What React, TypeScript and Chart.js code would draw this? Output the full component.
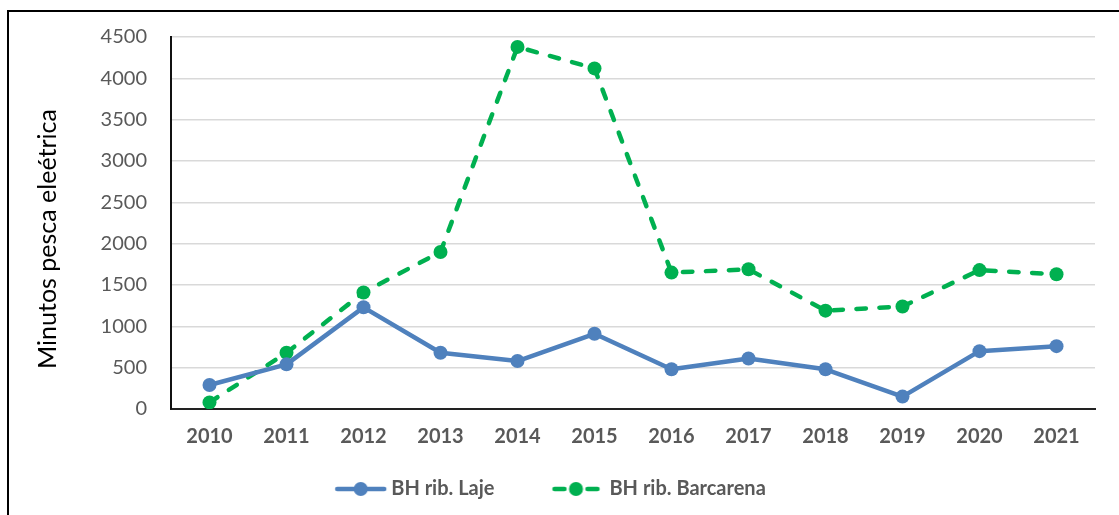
import React, { useEffect, useRef } from "react";
import { Chart, registerables } from "chart.js";

Chart.register(...registerables);

const categories = ["2010", "2011", "2012", "2013", "2014", "2015", "2016", "2017", "2018", "2019", "2020", "2021"];
const lajeValues = [290, 540, 1230, 680, 580, 910, 480, 610, 480, 150, 700, 760];
const barcarenaValues = [80, 680, 1410, 1900, 4380, 4120, 1650, 1690, 1190, 1240, 1680, 1630];
const seriesNames = ["BH rib. Laje", "BH rib. Barcarena"];
const yMin = 0;
const yMax = 4500;
const yStep = 500;
const yTitle = "Minutos pesca eleétrica     ";

const BLUE = "#4F81BD";
const GREEN = "#00B050";
const FONT = "Lato, 'Liberation Sans', sans-serif";

const PAD_LEFT = -25;
const LEGEND_BOX = 77;
const ICON_W = 97;

function makeLegendIcon(color: string, dashed: boolean, totalW: number, visW: number, gap: number) {
  const c = document.createElement("canvas");
  c.width = totalW;
  c.height = 20;
  const ctx = c.getContext("2d")!;
  const x0 = totalW - gap - visW;
  ctx.strokeStyle = color;
  ctx.fillStyle = color;
  ctx.lineWidth = 4.5;
  ctx.lineCap = "round";
  ctx.beginPath();
  if (dashed) {
    ctx.moveTo(x0 + 3, 10);
    ctx.lineTo(x0 + 13, 10);
    ctx.moveTo(x0 + visW - 13, 10);
    ctx.lineTo(x0 + visW - 3, 10);
  } else {
    ctx.moveTo(x0 + 3, 10);
    ctx.lineTo(x0 + visW - 3, 10);
  }
  ctx.stroke();
  ctx.beginPath();
  ctx.arc(x0 + visW / 2, 10, 7, 0, Math.PI * 2);
  ctx.fill();
  return c;
}

export default function App() {
  const canvasRef = useRef<HTMLCanvasElement | null>(null);

  useEffect(() => {
    if (!canvasRef.current) return;
    const icons = [makeLegendIcon(BLUE, false, ICON_W, 53, 4), makeLegendIcon(GREEN, true, ICON_W, 49, 9)];
    const chart = new Chart(canvasRef.current, {
      type: "line",
      data: {
        labels: categories,
        datasets: [
          {
            label: seriesNames[0],
            data: lajeValues,
            borderColor: BLUE,
            backgroundColor: BLUE,
            borderWidth: 4.5,
            pointRadius: 7,
            pointHoverRadius: 7,
            pointBorderWidth: 0,
            pointBackgroundColor: BLUE,
            borderCapStyle: "round",
            borderJoinStyle: "round",
            tension: 0,
          },
          {
            label: seriesNames[1],
            data: barcarenaValues,
            borderColor: GREEN,
            backgroundColor: GREEN,
            borderWidth: 4.5,
            borderDash: [9.5, 13.5],
            borderCapStyle: "round",
            borderJoinStyle: "round",
            pointRadius: 7,
            pointHoverRadius: 7,
            pointBorderWidth: 0,
            pointBackgroundColor: GREEN,
            tension: 0,
          },
        ],
      },
      options: {
        responsive: false,
        animation: false,
        layout: { padding: { left: PAD_LEFT, right: 24, top: 37, bottom: 6 } },
        plugins: {
          tooltip: { enabled: false },
          legend: {
            position: "bottom",
            labels: {
              usePointStyle: true,
              pointStyleWidth: LEGEND_BOX,
              padding: 28,
              color: "#595959",
              font: { family: FONT, size: 20, weight: "bold" },
              generateLabels: (ch: any) => {
                const items = (Chart.defaults.plugins.legend.labels.generateLabels as any)(ch);
                return items.map((it: any, i: number) => ({ ...it, pointStyle: icons[i] }));
              },
            },
          },
        },
        scales: {
          x: {
            offset: true,
            grid: { display: false, drawTicks: false },
            border: { display: true, color: "#222", width: 2 },
            ticks: {
              color: "#595959",
              padding: 16,
              font: { family: FONT, size: 20, weight: "bold" },
              maxRotation: 0,
              autoSkip: false,
            },
            afterFit: (scale: any) => {
              scale.height = 42;
            },
          },
          y: {
            min: yMin,
            max: yMax,
            ticks: {
              stepSize: yStep,
              color: "#595959",
              padding: 24,
              font: { family: FONT, size: 20 },
              callback: (v: any) => String(v),
            },
            grid: { color: "#d9d9d9", lineWidth: 1.5, drawTicks: false },
            border: { display: true, color: "#111", width: 2 },
            title: {
              display: true,
              text: yTitle,
              color: "#000",
              font: { family: FONT, size: 25 },
              padding: { top: 58, bottom: 0 },
            },
            afterFit: (scale: any) => {
              scale.width = 171 - PAD_LEFT;
            },
          },
        },
      },
    });
    return () => chart.destroy();
  }, []);

  return (
    <div style={{ position: "fixed", left: 0, top: 0, width: 1119, height: 515, overflow: "hidden", background: "#fff" }}>
      <div
        style={{
          position: "absolute",
          left: 7,
          top: 10,
          width: 1112,
          height: 505,
          borderLeft: "2px solid #000",
          borderTop: "2px solid #000",
          boxSizing: "border-box",
        }}
      />
      <canvas ref={canvasRef} width={1119} height={515} style={{ position: "absolute", left: 0, top: 0 }} />
    </div>
  );
}
